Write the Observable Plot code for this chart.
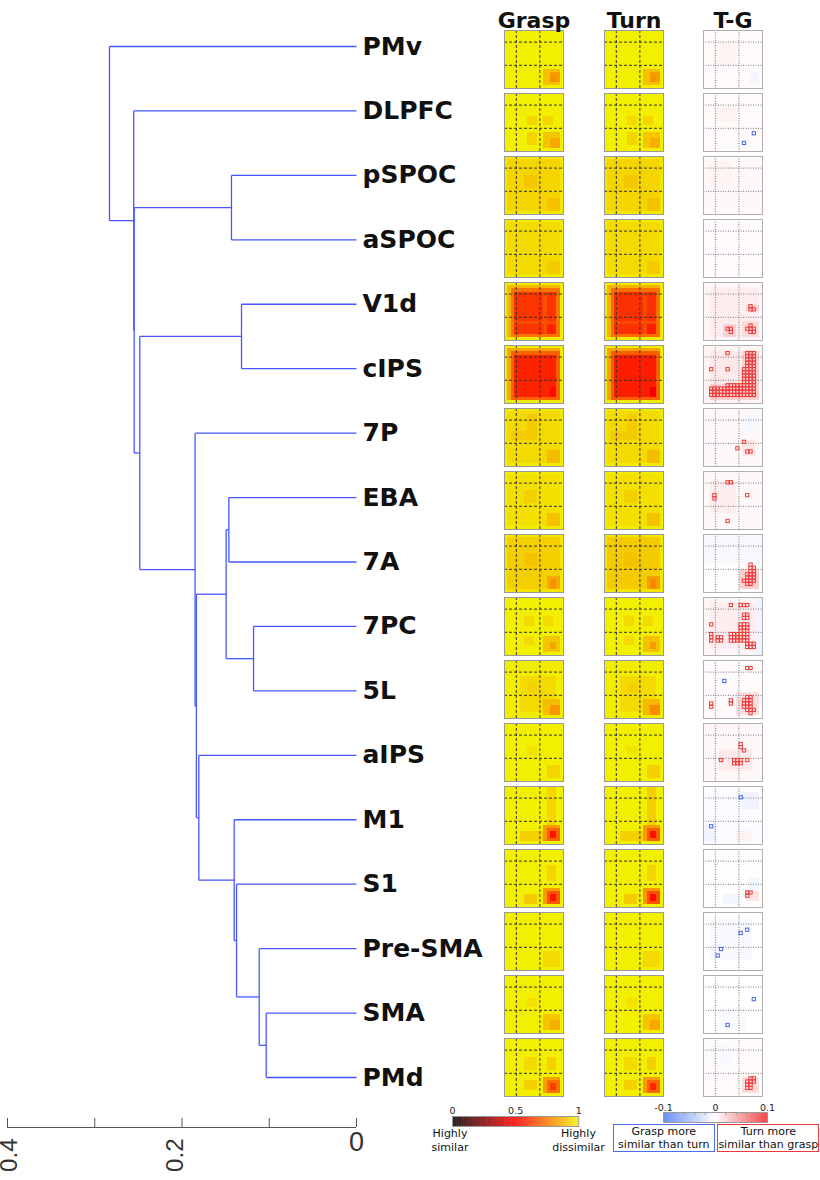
<!DOCTYPE html>
<html><head><meta charset="utf-8">
<script src="https://cdn.jsdelivr.net/npm/d3@7"></script>
<script src="https://cdn.jsdelivr.net/npm/@observablehq/plot@0.6"></script>
<style>
body{margin:0;background:#fff;}
#root{position:relative;width:820px;height:1180px;overflow:hidden;font-family:"DejaVu Sans",sans-serif;}
.pos{position:absolute;}
.pos svg{overflow:visible;max-width:none;}
.lg{position:absolute;font-size:11px;line-height:14px;text-align:center;color:#111;white-space:nowrap;}
.box{position:absolute;box-sizing:border-box;font-size:11px;line-height:14px;text-align:center;color:#111;white-space:nowrap;background:#fff;}
</style></head><body><div id="root"></div>
<script>
// ---------------- data ----------------
const regions = ["PMv","DLPFC","pSPOC","aSPOC","V1d","cIPS","7P","EBA","7A","7PC","5L","aIPS","M1","S1","Pre-SMA","SMA","PMd"];
const conditions = ["Grasp","Turn"];
const diffName = ["T-G"];
const nCells = 18;
const eventLines = [3.6, 10.8];

// dendrogram merges: [child 1, child 2, linkage distance]; nodes referenced as "n<index>"
const merges = [
  ["pSPOC","aSPOC",0.1433],
  ["V1d","cIPS",0.1318],
  ["EBA","7A",0.1463],
  ["7PC","5L",0.1180],
  ["n2","n3",0.1494],
  ["SMA","PMd",0.1035],
  ["Pre-SMA","n5",0.1115],
  ["S1","n6",0.1375],
  ["M1","n7",0.1402],
  ["aIPS","n8",0.1807],
  ["n4","n9",0.1835],
  ["7P","n10",0.1850],
  ["n1","n11",0.2484],
  ["n0","n12",0.2548],
  ["DLPFC","n13",0.2553],
  ["PMv","n14",0.2831]
];
const axisTicks = [0.4, 0.3, 0.2, 0.1, 0];
const axisLabelEdge = [0.4];
const axisLabelsRotated = [0.2];
const axisLabelsFlat = [0];

// dissimilarity matrices: background value + rectangular patches [row0,row1,col0,col1,value]
const graspBase = [0.995,0.995,0.975,0.98,0.99,0.99,0.985,0.99,0.975,0.995,0.99,0.995,0.995,0.995,0.995,0.995,0.995];
const graspBlobs = [
  [[12,16,12,16,0.9],[13,15,14,16,0.83],[14,15,14,15,0.8]],
  [[7,9,7,9,0.94],[7,9,12,14,0.94],[12,15,7,9,0.94],[12,16,12,16,0.91],[14,16,14,16,0.85]],
  [[1,16,1,16,0.94],[6,9,6,9,0.91],[13,16,13,16,0.9]],
  [[1,16,1,16,0.95],[13,16,13,16,0.92]],
  [[1,16,1,16,0.88],[2,16,2,16,0.74],[3,15,3,15,0.61],[3,15,12,12,0.66],[12,12,3,15,0.66],[13,15,13,15,0.57]],
  [[1,16,1,16,0.85],[2,16,2,16,0.7],[3,15,3,15,0.57],[13,15,14,15,0.52]],
  [[1,16,1,16,0.95],[7,9,2,9,0.92],[2,9,7,9,0.92],[13,16,13,16,0.89]],
  [[1,16,1,16,0.96],[6,9,6,9,0.93],[13,16,13,16,0.9]],
  [[1,16,1,16,0.93],[6,9,6,9,0.9],[13,16,13,16,0.85],[14,16,14,15,0.8]],
  [[6,8,6,8,0.95],[6,8,12,14,0.95],[12,14,6,8,0.95],[12,16,12,16,0.91],[14,15,14,15,0.84]],
  [[5,15,5,15,0.95],[7,9,7,9,0.93],[12,16,12,16,0.89],[14,16,14,16,0.81]],
  [[7,9,7,9,0.97],[13,16,13,16,0.94]],
  [[0,11,13,15,0.94],[14,16,5,11,0.93],[12,16,12,16,0.82],[13,16,13,16,0.7],[14,15,14,15,0.54]],
  [[5,9,13,15,0.94],[14,16,6,9,0.92],[12,16,12,16,0.82],[13,16,13,16,0.68],[14,15,14,15,0.54]],
  [[12,16,12,16,0.95]],
  [[7,9,7,9,0.96],[12,16,12,16,0.91],[14,16,14,16,0.86]],
  [[6,9,6,9,0.95],[13,15,6,9,0.93],[6,9,13,15,0.93],[12,16,12,16,0.83],[13,16,13,16,0.73],[14,15,14,15,0.62]]
];
const turnBase = [0.995,0.995,0.975,0.98,0.99,0.99,0.985,0.99,0.975,0.995,0.99,0.995,0.995,0.995,0.995,0.995,0.995];
const turnBlobs = [
  [[12,16,12,16,0.9],[13,15,14,16,0.83],[14,15,14,15,0.8]],
  [[7,9,7,9,0.95],[7,9,12,14,0.94],[12,15,7,9,0.94],[12,16,12,16,0.91],[14,16,14,16,0.86]],
  [[1,16,1,16,0.94],[6,9,6,9,0.91],[13,16,13,16,0.9]],
  [[1,16,1,16,0.95],[13,16,13,16,0.92]],
  [[1,16,1,16,0.87],[2,16,2,16,0.73],[3,15,3,15,0.6],[3,15,12,12,0.65],[12,12,3,15,0.65],[13,15,13,15,0.56]],
  [[1,16,1,16,0.84],[2,16,2,16,0.69],[3,15,3,15,0.56],[13,15,14,15,0.48]],
  [[1,16,1,16,0.95],[7,9,2,9,0.92],[2,9,7,9,0.92],[13,16,13,16,0.89]],
  [[1,16,1,16,0.96],[6,9,6,9,0.93],[13,16,13,16,0.9]],
  [[1,16,1,16,0.92],[6,9,6,9,0.9],[13,16,13,16,0.83],[14,16,14,15,0.78]],
  [[6,8,6,8,0.95],[6,8,12,14,0.95],[12,14,6,8,0.95],[12,16,12,16,0.9],[14,15,14,15,0.82]],
  [[5,15,5,15,0.95],[7,9,7,9,0.93],[12,16,12,16,0.88],[14,16,14,16,0.79]],
  [[7,9,7,9,0.97],[13,16,13,16,0.93]],
  [[0,11,13,15,0.93],[14,16,5,11,0.93],[12,16,12,16,0.82],[13,16,13,16,0.69],[14,15,14,15,0.54]],
  [[5,9,13,15,0.94],[14,16,6,9,0.92],[12,16,12,16,0.81],[13,16,13,16,0.67],[14,15,14,15,0.52]],
  [[12,16,12,16,0.95]],
  [[7,9,7,9,0.96],[12,16,12,16,0.91],[14,16,14,16,0.85]],
  [[6,9,6,9,0.95],[13,15,6,9,0.93],[6,9,13,15,0.93],[12,16,12,16,0.82],[13,16,13,16,0.71],[14,15,14,15,0.58]]
];
// Turn minus Grasp
const diffBase = [0.002,0.002,0.003,0.002,0.004,0.005,0.003,0.003,0.001,0.004,0.002,0.003,-0.002,0.001,0.0,0.0,0.002];
const diffBlobs = [
  [[4,10,3,9,0.005],[13,16,14,16,-0.006]],
  [[4,8,4,9,0.006],[15,16,7,13,-0.004]],
  [[2,8,2,8,0.005]],
  [],
  [[2,16,2,16,0.008],[7,8,13,16,0.02],[13,16,6,9,0.02],[12,16,12,16,0.016]],
  [[2,16,2,16,0.01],[12,16,2,16,0.022],[2,16,12,16,0.022]],
  [[2,6,12,16,-0.005],[10,14,12,15,0.012]],
  [[3,12,2,9,0.008]],
  [[0,8,0,17,-0.005],[11,16,11,16,0.022]],
  [[2,15,2,15,0.008],[0,17,16,17,-0.008]],
  [[10,16,10,16,0.014]],
  [[8,14,5,14,0.009]],
  [[2,6,12,16,-0.008],[12,16,0,3,-0.008],[14,16,10,14,0.006]],
  [[9,12,14,16,-0.007],[14,16,6,10,-0.007],[13,15,13,16,0.012]],
  [[2,14,2,14,-0.004]],
  [[10,16,5,12,-0.004]],
  [[12,16,12,16,0.015],[2,8,2,8,-0.004]]
];
// significant cells [row0,row1,col0,col1]
const sigTurn = [
  [],[],[],[],
  [[7,7,14,14],[8,8,14,15],[14,14,7,8],[15,15,8,8],[13,13,14,14],[14,14,13,15],[15,15,14,15]],
  [[13,15,2,15],[2,12,13,15],[12,12,7,12],[7,11,12,12],[2,2,7,7],[7,7,2,2],[7,7,7,7]],
  [[10,10,12,12],[12,12,10,10],[13,13,13,14]],
  [[3,3,7,8],[7,8,3,3],[7,7,13,13],[15,15,7,7]],
  [[9,9,14,14],[10,11,14,15],[12,13,13,15],[14,14,12,15],[15,15,13,14]],
  [[2,2,8,8],[8,8,2,2],[2,2,11,13],[11,13,2,2],[5,6,12,13],[12,13,4,5],[8,10,11,13],[11,13,8,13],[14,15,13,15]],
  [[2,2,13,14],[13,14,2,2],[11,11,13,14],[12,13,8,8],[12,14,12,14],[15,15,13,15],[16,16,14,14]],
  [[6,7,11,11],[8,8,12,12],[11,11,5,5],[11,12,9,11],[11,11,13,13]],
  [],
  [[13,13,13,14],[14,14,13,13]],
  [],[],
  [[12,12,14,15],[13,13,13,15],[14,15,13,14]]
];
const sigGrasp = [
  [],[[12,12,15,15],[15,15,12,12]],[],[],[],[],[],[],[],[],
  [[6,6,6,6]],[],
  [[12,12,2,2],[3,3,11,11]],
  [],
  [[5,5,13,13],[6,6,11,11],[11,11,5,5],[13,13,4,4]],
  [[7,7,15,15],[15,15,7,7]],
  []
];
const hotTicks = [0, 0.5, 1];
const divTicks = [-0.1, 0, 0.1];
const divMinorTicks = [-0.08,-0.06,-0.04,-0.02,0.02,0.04,0.06,0.08];

// ---------------- helpers ----------------
const root = document.getElementById("root");
function place(node, left, top, width) {
  const d = document.createElement("div");
  d.className = "pos";
  d.style.left = left + "px"; d.style.top = top + "px"; d.style.width = width + "px";
  d.appendChild(node); root.appendChild(d);
}
function grid(base, blobs) {
  const g = Array.from({length: nCells}, () => Array(nCells).fill(base));
  for (const [r0, r1, c0, c1, v] of blobs)
    for (let r = r0; r <= r1; r++) for (let c = c0; c <= c1; c++) g[r][c] = v;
  return g;
}
function cellsOf(gridArr, region, cond) {
  const out = [];
  gridArr.forEach((row, r) => row.forEach((v, c) => out.push({region, cond, r, c, v})));
  return out;
}
function sigCells(list, cond) {
  const out = [];
  list.forEach((rects, i) => rects.forEach(([r0, r1, c0, c1]) => {
    for (let r = r0; r <= r1; r++) for (let c = c0; c <= c1; c++) out.push({region: regions[i], cond, r, c});
  }));
  return out;
}
const hotColor = {type: "linear", domain: [0, 0.5, 1], range: ["#000000", "#ff0000", "#f2f200"], clamp: true};
const divColor = {type: "linear", domain: [-0.1, 0, 0.1], range: ["#4a78f2", "#ffffff", "#ec2027"], clamp: true};
const tStyle = {background: "transparent", overflow: "visible"};

// ---------------- dendrogram ----------------
const nodePos = {};
regions.forEach((name, i) => nodePos[name] = {y: i, h: 0});
const segments = [];
merges.forEach(([a, b, h], k) => {
  const A = nodePos[a], B = nodePos[b];
  segments.push({x1: A.h, y1: A.y, x2: h, y2: A.y});
  segments.push({x1: B.h, y1: B.y, x2: h, y2: B.y});
  segments.push({x1: h, y1: A.y, x2: h, y2: B.y});
  nodePos["n" + k] = {y: (A.y + B.y) / 2, h};
});
const leafData = regions.map((name, i) => ({name, i}));

place(Plot.plot({
  width: 500, height: 1180, marginLeft: 7, marginRight: 144, marginTop: 46, marginBottom: 103,
  x: {domain: [0.4, 0], axis: null},
  y: {domain: [0, 16], reverse: true, axis: null},
  style: tStyle,
  marks: [
    Plot.link(segments, {x1: "x1", y1: "y1", x2: "x2", y2: "y2", stroke: "#4657ff", strokeWidth: 1.3}),
    Plot.text(leafData, {x: () => 0, y: "i", text: "name", dx: 6, textAnchor: "start", fontSize: 25,
      fontWeight: "bold", fontFamily: "DejaVu Sans", fill: "#111"})
  ]
}), 0, 0, 500);

// dendrogram axis
const rotLabel = {text: d => String(d), frameAnchor: "bottom", rotate: -90, textAnchor: "end", dy: 11,
  fontSize: 24, fontFamily: "Liberation Sans", fill: "#333"};
place(Plot.plot({
  width: 500, height: 62, marginLeft: 7, marginRight: 144, marginTop: 0, marginBottom: 53,
  x: {domain: [0.4, 0], axis: null},
  y: {domain: [0, 1], axis: null},
  style: tStyle,
  marks: [
    Plot.ruleY([0], {stroke: "#555"}),
    Plot.tickX(axisTicks, {x: d => d, stroke: "#555"}),
    Plot.text(axisLabelEdge, {x: d => d, ...rotLabel, dx: 9}),
    Plot.text(axisLabelsRotated, {x: d => d, ...rotLabel, dx: 1}),
    Plot.text(axisLabelsFlat, {x: d => d, text: d => String(d), frameAnchor: "bottom", dy: 23,
      fontSize: 27, fontFamily: "Liberation Sans", fill: "#333"})
  ]
}), 0, 1118, 500);

// ---------------- Grasp / Turn matrices ----------------
const gtCells = [];
regions.forEach((reg, i) => {
  gtCells.push(...cellsOf(grid(graspBase[i], graspBlobs[i]), reg, "Grasp"));
  gtCells.push(...cellsOf(grid(turnBase[i], turnBlobs[i]), reg, "Turn"));
});
const facetCommon = {
  height: 1099, marginTop: 29.3, marginBottom: 1.7, marginLeft: 1, marginRight: 1,
  fy: {domain: regions, paddingInner: 0.0808, paddingOuter: 0, axis: null},
  x: {domain: [0, nCells], axis: null},
  y: {domain: [0, nCells], reverse: true, axis: null},
  style: tStyle
};
const titleAxis = {anchor: "top", tickSize: 0, tickPadding: 3, fontSize: 22, fontWeight: "bold",
  fontFamily: "DejaVu Sans", label: null, fill: "#111"};

place(Plot.plot({
  ...facetCommon, width: 161,
  fx: {domain: conditions, paddingInner: 0.41, paddingOuter: 0},
  color: hotColor,
  marks: [
    Plot.rect(gtCells, {fx: "cond", fy: "region", x1: "c", x2: d => d.c + 1, y1: "r", y2: d => d.r + 1,
      fill: "v", shapeRendering: "crispEdges"}),
    Plot.ruleX(eventLines, {stroke: "#333", strokeDasharray: "3,2"}),
    Plot.ruleY(eventLines, {stroke: "#333", strokeDasharray: "3,2"}),
    Plot.frame({stroke: "#9a9a9a"}),
    Plot.axisFx(titleAxis)
  ]
}), 503.3, 0, 161);

// ---------------- T-G matrices ----------------
const dCells = [];
regions.forEach((reg, i) => dCells.push(...cellsOf(grid(diffBase[i], diffBlobs[i]), reg, "T-G")));
const redCells = sigCells(sigTurn, "T-G");
const blueCells = sigCells(sigGrasp, "T-G");

place(Plot.plot({
  ...facetCommon, width: 61,
  fx: {domain: diffName, paddingInner: 0, paddingOuter: 0},
  color: divColor,
  marks: [
    Plot.rect(dCells, {fx: "cond", fy: "region", x1: "c", x2: d => d.c + 1, y1: "r", y2: d => d.r + 1,
      fill: "v", shapeRendering: "crispEdges"}),
    Plot.ruleX(eventLines, {stroke: "#777", strokeDasharray: "1,1.5"}),
    Plot.ruleY(eventLines, {stroke: "#777", strokeDasharray: "1,1.5"}),
    Plot.rect(redCells, {fx: "cond", fy: "region", x1: "c", x2: d => d.c + 1, y1: "r", y2: d => d.r + 1,
      fill: "none", stroke: "#f03a3a", strokeWidth: 1}),
    Plot.rect(blueCells, {fx: "cond", fy: "region", x1: "c", x2: d => d.c + 1, y1: "r", y2: d => d.r + 1,
      fill: "none", stroke: "#4a66ee", strokeWidth: 1}),
    Plot.frame({stroke: "#b0b0b0"}),
    Plot.axisFx(titleAxis)
  ]
}), 702.3, 0, 61);

// ---------------- colour bars ----------------
const hotRamp = d3.range(0, 1, 0.005);
place(Plot.plot({
  width: 128.3, height: 27, marginLeft: 1, marginRight: 1, marginTop: 16, marginBottom: 1,
  x: {domain: [0, 1], axis: null}, y: {axis: null},
  color: hotColor, style: tStyle,
  marks: [
    Plot.rect(hotRamp, {x1: d => d, x2: d => Math.min(1, d + 0.006), fill: d => d}),
    Plot.frame({stroke: "#999"}),
    Plot.axisX({anchor: "top", ticks: hotTicks, tickSize: 0, tickPadding: 2, fontSize: 9.5,
      tickFormat: d => String(d), label: null, fontFamily: "DejaVu Sans", fill: "#222"})
  ]
}), 450.7, 1100, 128.3);

const divRamp = d3.range(-0.1, 0.1, 0.001);
place(Plot.plot({
  width: 106, height: 27, marginLeft: 1, marginRight: 1, marginTop: 16, marginBottom: 1,
  x: {domain: [-0.1, 0.1], axis: null}, y: {axis: null},
  color: divColor, style: tStyle,
  marks: [
    Plot.rect(divRamp, {x1: d => d, x2: d => Math.min(0.1, d + 0.0012), fill: d => d}),
    Plot.tickX(divMinorTicks, {x: d => d, stroke: "#999", insetBottom: 7}),
    Plot.frame({stroke: "#999"}),
    Plot.axisX({anchor: "top", ticks: divTicks, tickSize: 0, tickPadding: 2, fontSize: 9.5,
      tickFormat: d => String(d), label: null, fontFamily: "DejaVu Sans", fill: "#222"})
  ]
}), 661.7, 1096, 106);

// ---------------- legend texts ----------------
function addText(cls, html, left, top, width, extra) {
  const d = document.createElement("div");
  d.className = cls; d.innerHTML = html;
  d.style.left = left + "px"; d.style.top = top + "px"; d.style.width = width + "px";
  Object.assign(d.style, extra || {});
  root.appendChild(d);
}
addText("lg", "Highly<br>similar", 410, 1127, 80);
addText("lg", "Highly<br>dissimilar", 538.5, 1127, 80);
addText("box", "Grasp more<br>similar than turn", 612.7, 1124.3, 102.3, {height: "27.4px", border: "1.5px solid #4b6ef0", paddingTop: "0px", lineHeight: "13px"});
addText("box", "Turn more<br>similar than grasp", 717.3, 1124.3, 102, {height: "27.4px", border: "1.5px solid #ea3a3a", paddingTop: "0px", lineHeight: "13px"});
</script></body></html>
